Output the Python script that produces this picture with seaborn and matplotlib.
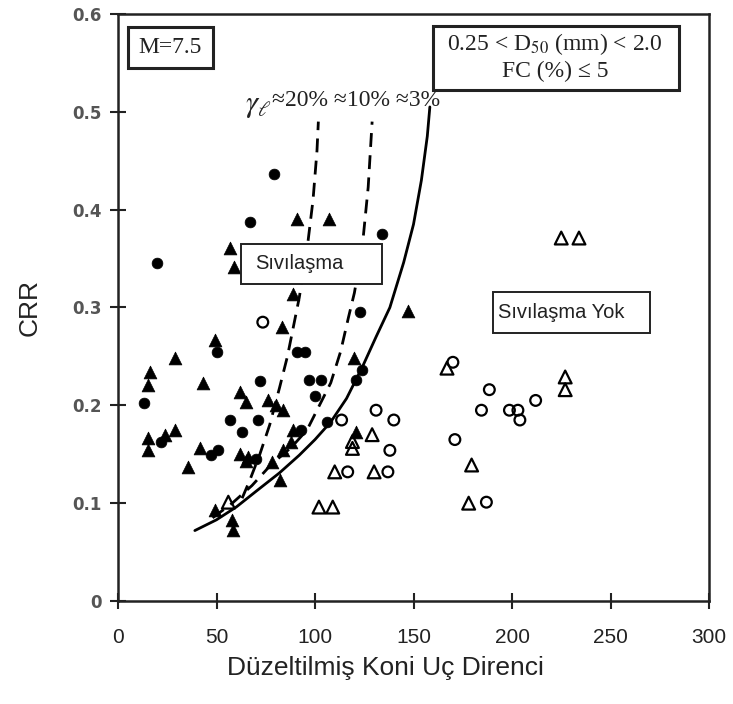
import matplotlib
matplotlib.use('Agg')
import matplotlib.pyplot as plt
import seaborn as sns
import pandas as pd
from matplotlib import font_manager
from matplotlib.patches import Rectangle

# ---------------- data ----------------
liq_circle_x = [79, 67, 20, 134, 123, 13, 22, 50, 57, 63, 71, 72, 47, 51, 70, 91, 95, 97, 100, 103, 106, 124, 121, 93]
liq_circle_y = [0.436, 0.387, 0.345, 0.375, 0.295, 0.202, 0.163, 0.255, 0.185, 0.173, 0.185, 0.225, 0.149, 0.154,
                0.145, 0.255, 0.255, 0.226, 0.21, 0.226, 0.183, 0.236, 0.226, 0.175]

liq_tri_x = [57, 59, 91, 107, 89, 83, 147, 49, 29, 16, 15, 43, 62, 65, 24, 29, 15, 15, 35.5, 41.5, 62, 65, 49, 58,
             58.5, 76, 80, 84, 66, 78, 84, 82, 89, 120, 121, 88]
liq_tri_y = [0.361, 0.341, 0.39, 0.39, 0.314, 0.28, 0.296, 0.267, 0.248, 0.234, 0.221, 0.223, 0.214, 0.203, 0.17,
             0.175, 0.167, 0.154, 0.137, 0.156, 0.15, 0.143, 0.093, 0.083, 0.073, 0.205, 0.2, 0.195, 0.147, 0.142,
             0.154, 0.124, 0.175, 0.248, 0.173, 0.163]

noliq_circle_x = [73.5, 113.5, 131, 140, 138, 116.6, 137, 170, 171, 188.5, 184.5, 198.7, 203, 204, 212, 187]
noliq_circle_y = [0.285, 0.185, 0.195, 0.185, 0.154, 0.132, 0.132, 0.244, 0.165, 0.216, 0.195, 0.195, 0.195,
                  0.185, 0.205, 0.101]

noliq_tri_x = [56, 129, 119, 119, 110, 130, 102, 109, 167, 179.5, 178, 225, 234, 227, 227]
noliq_tri_y = [0.101, 0.17, 0.163, 0.156, 0.132, 0.132, 0.096, 0.096, 0.238, 0.139, 0.1, 0.371, 0.371, 0.229, 0.216]

curve3_x = [39, 50, 60, 70, 82, 92, 100, 108, 116, 124, 131, 138, 145, 150, 154, 157, 158.3]
curve3_y = [0.072, 0.083, 0.096, 0.112, 0.131, 0.149, 0.165, 0.183, 0.207, 0.239, 0.27, 0.30, 0.346, 0.385, 0.43,
            0.475, 0.505]
curve10_x = [48, 58, 68, 78, 88, 96, 101, 108, 113, 117, 120, 124, 127, 129]
curve10_y = [0.085, 0.1, 0.118, 0.14, 0.157, 0.175, 0.195, 0.223, 0.255, 0.29, 0.315, 0.362, 0.423, 0.49]
curve20_x = [63, 67, 72, 77, 82, 86, 89, 92, 96, 99, 101, 101.7]
curve20_y = [0.105, 0.124, 0.15, 0.18, 0.218, 0.25, 0.28, 0.31, 0.36, 0.41, 0.46, 0.49]

x_ticks = [0, 50, 100, 150, 200, 250, 300]
x_tick_labels = ['0', '50', '100', '150', '200', '250', '300']
y_ticks = [0, 0.1, 0.2, 0.3, 0.4, 0.5, 0.6]
y_tick_labels = ['0', '0.1', '0.2', '0.3', '0.4', '0.5', '0.6']

x_label = 'Düzeltilmiş Koni Uç Direnci'
y_label = 'CRR'

# ---------------- style ----------------
sns.set_theme(style='white')
plt.rcParams['font.family'] = ['DejaVu Sans']
plt.rcParams['mathtext.fontset'] = 'stix'
names = {f.name for f in font_manager.fontManager.ttflist}
NARROW = 'Liberation Sans Narrow' if 'Liberation Sans Narrow' in names else 'Liberation Sans'
SERIF = 'Liberation Serif'
SANS = 'Liberation Sans'
INK = '#222222'

fig = plt.figure(figsize=(7.33, 7.04), dpi=100)
ax = fig.add_axes([118 / 733, 103 / 704, (709 - 118) / 733, (601 - 14) / 704])

# curves
ax.plot(curve3_x, curve3_y, color='black', lw=2.0, solid_capstyle='round')
ax.plot(curve10_x, curve10_y, color='black', lw=2.0, dashes=(5, 3))
ax.plot(curve20_x, curve20_y, color='black', lw=2.0, dashes=(5, 3))

# scatter points
df_lc = pd.DataFrame({'x': liq_circle_x, 'y': liq_circle_y})
df_lt = pd.DataFrame({'x': liq_tri_x, 'y': liq_tri_y})
df_nc = pd.DataFrame({'x': noliq_circle_x, 'y': noliq_circle_y})
df_nt = pd.DataFrame({'x': noliq_tri_x, 'y': noliq_tri_y})

sns.scatterplot(data=df_lc, x='x', y='y', ax=ax, marker='o', s=60, color='black', edgecolor='black', linewidth=0.5, zorder=3)
sns.scatterplot(data=df_lt, x='x', y='y', ax=ax, marker='^', s=85, color='black', edgecolor='black', linewidth=0.5, zorder=3)
sns.scatterplot(data=df_nc, x='x', y='y', ax=ax, marker='o', s=60, facecolor='none', edgecolor='black', linewidth=1.6, zorder=3)
sns.scatterplot(data=df_nt, x='x', y='y', ax=ax, marker='^', s=85, facecolor='none', edgecolor='black', linewidth=1.6, zorder=3)

ax.set_xlim(0, 300)
ax.set_ylim(0, 0.6)
ax.set_xticks(x_ticks)
ax.set_xticklabels(x_tick_labels, fontfamily=[NARROW, 'DejaVu Sans'], fontsize=15, color=INK)
ax.set_yticks(y_ticks)
ax.set_yticklabels(y_tick_labels, fontfamily='DejaVu Sans', fontweight='bold', fontsize=12, color='#555555')
ax.tick_params(axis='both', direction='inout', length=11, width=1.5, colors=INK, bottom=True, left=True)
ax.tick_params(axis='x', pad=14, labelcolor=INK)
ax.tick_params(axis='y', pad=6, labelcolor='#555555')

for sp in ax.spines.values():
    sp.set_color(INK)
    sp.set_linewidth(1.8)

ax.set_xlabel(x_label, fontfamily=[NARROW, 'DejaVu Sans'], fontsize=19, color=INK)
ax.set_ylabel(y_label, fontfamily=[NARROW, 'DejaVu Sans'], fontsize=19, color=INK)
ax.xaxis.set_label_coords(0.452, -0.093)
ax.yaxis.set_label_coords(-0.130, 0.50)

# annotation boxes
def box(x0, y0, x1, y1, lw=1.6):
    ax.add_patch(Rectangle((x0, y0), x1 - x0, y1 - y0, fill=True, facecolor='white',
                           edgecolor=INK, lw=lw, zorder=4))

box(5.1, 0.545, 48.1, 0.587, lw=2.2)
ax.text(26.6, 0.566, 'M=7.5', fontfamily=SERIF, fontsize=17, ha='center', va='center', zorder=5, color=INK)

box(159.7, 0.522, 284.8, 0.588, lw=2.2)
ax.text(222, 0.569, '0.25 < D$_{50}$ (mm) < 2.0', fontfamily=SERIF, fontsize=17, ha='center', va='center', zorder=5,
        color=INK)
ax.text(222, 0.541, 'FC (%) ≤ 5', fontfamily=SERIF, fontsize=17, ha='center', va='center', zorder=5, color=INK)

box(62.3, 0.324, 133.8, 0.365, lw=1.4)
ax.text(69.5, 0.3445, 'Sıvılaşma', fontfamily=SANS, fontsize=14.5, ha='left', va='center', zorder=5, color=INK)

box(190.6, 0.274, 270.1, 0.316, lw=1.4)
ax.text(193, 0.295, 'Sıvılaşma Yok', fontfamily=SANS, fontsize=14.5, ha='left', va='center', zorder=5, color=INK)

ax.text(64.5, 0.506, r'$\gamma_\ell$', fontsize=22, ha='left', va='center', color=INK)
ax.text(78, 0.512, '≈20% ≈10% ≈3%', fontfamily=SERIF, fontsize=17, ha='left', va='center', color=INK)

fig.savefig('out.png', dpi=100, facecolor='white')
